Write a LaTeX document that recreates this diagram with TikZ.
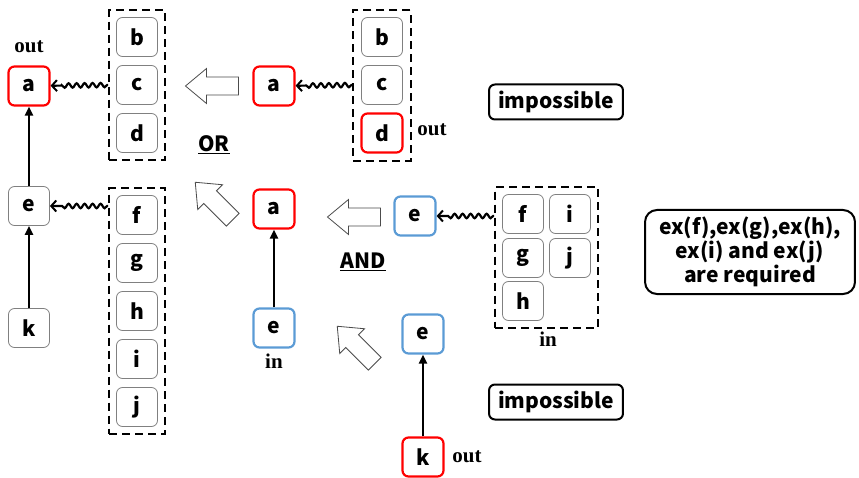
\documentclass[tikz,border=0pt]{standalone}
\usepackage{fontspec}
\setmainfont{Noto Sans CJK JP}
\newfontfamily\tagfont{Liberation Serif}
\usetikzlibrary{arrows.meta,positioning,fit,decorations.pathmorphing}

\definecolor{outred}{RGB}{255,0,0}
\definecolor{inblue}{RGB}{91,155,213}
\definecolor{plaingray}{RGB}{128,128,128}

\tikzset{
  elem/.style={draw=plaingray, line width=0.8pt, rounded corners=6pt,
    minimum width=41pt, minimum height=39pt, inner sep=0pt,
    font=\fontsize{21}{24}\selectfont\bfseries},
  outelem/.style={elem, draw=outred, line width=2.2pt},
  inelem/.style={elem, draw=inblue, line width=2.2pt},
  group/.style={draw, line width=2pt, dash pattern=on 8pt off 5pt, inner sep=7pt},
  tag/.style={font=\tagfont\fontsize{21}{24}\selectfont\bfseries},
  opword/.style={font=\fontsize{21}{24}\selectfont\bfseries},
  verdict/.style={draw, line width=2pt, rounded corners=6pt, align=center,
    inner xsep=9pt, minimum height=35pt,
    font=\fontsize{21}{24}\selectfont\bfseries},
  dep/.style={-{Straight Barb[length=5pt,width=11pt,line width=2pt]}, line width=2.2pt,
    decorate, decoration={snake, amplitude=2.2pt, segment length=8pt, pre length=1pt, post length=9pt}},
  link/.style={-{Triangle[length=9pt,width=8pt]}, line width=2.2pt},
  openarrow/.pic={
    \draw[black!70, fill=white, line width=0.8pt]
      (-26.5,0) -- (-5.5,17.5) -- (-5.5,9) -- (26.5,9) -- (26.5,-9)
      -- (-5.5,-9) -- (-5.5,-17.5) -- cycle;
  }
}

\begin{document}
\begin{tikzpicture}[x=1pt, y=-1pt, node distance=48pt, on grid]
  \useasboundingbox (0,0) rectangle (859,478);

  % left: a with e below, k below e
  \node[outelem] (a1) at (29,86) {a};
  \node[elem] (e1) [below=120pt of a1] {e};
  \node[elem] (k1) [below=122pt of e1] {k};
  \node[tag] (out1) [above=39pt of a1] {out};

  \node[elem] (b1) at (137,37) {b};
  \node[elem] (c1) [below=of b1] {c};
  \node[elem] (d1) [below=of c1] {d};
  \node[group, fit=(b1)(d1)] (grp1) {};

  \node[elem] (f1) at (137,215) {f};
  \node[elem] (g1) [below=of f1] {g};
  \node[elem] (h1) [below=of g1] {h};
  \node[elem] (i1) [below=of h1] {i};
  \node[elem] (j1) [below=of i1] {j};
  \node[group, fit=(f1)(j1)] (grp2) {};

  \draw[link] (k1) -- (e1);
  \draw[link] (e1) -- (a1);
  \draw[dep] (grp1.west |- c1) -- (a1);
  \draw[dep] (grp2.west |- e1) -- (e1);

  % OR branch
  \pic at (212,86) {openarrow};
  \node[opword] (or) at (214,145) {\underline{OR}};
  \node[outelem] (a2) at (274,86) {a};
  \node[elem] (b2) at (382,37) {b};
  \node[elem] (c2) [below=of b2] {c};
  \node[outelem] (d2) [below=of c2] {d};
  \node[group, fit=(b2)(d2)] (grp3) {};
  \node[tag] (out2) at (432,130) {out};
  \draw[dep] (grp3.west |- c2) -- (a2);
  \node[verdict] (imp1) at (556,102) {impossible};

  % AND branch
  \pic[rotate=-45] at (214,201) {openarrow};
  \node[outelem] (a3) at (274,209) {a};
  \node[inelem] (e3) [below=119pt of a3] {e};
  \node[tag] (in3) [below=33pt of e3] {in};
  \draw[link] (e3) -- (a3);

  \pic at (354,217) {openarrow};
  \node[opword] (and) at (363,262) {\underline{AND}};
  \node[inelem] (e4) at (415,216) {e};

  \node[elem] (f4) at (523,214) {f};
  \node[elem] (i4) [right=47pt of f4] {i};
  \node[elem] (g4) [below=44pt of f4] {g};
  \node[elem] (j4) [right=47pt of g4] {j};
  \node[elem] (h4) [below=43pt of g4] {h};
  \node[group, fit=(f4)(j4)(h4)] (grp4) {};
  \node[tag] (in4) at (548,339) {in};
  \draw[dep] (grp4.west |- e4) -- (e4);

  \node[verdict, rounded corners=12pt, inner xsep=14pt, inner ysep=7pt] (req) at (750,252)
    {ex(f),ex(g),ex(h),\\ex(i) and ex(j)\\are required};

  % k under e
  \pic[rotate=-45] at (356,345) {openarrow};
  \node[inelem] (e5) at (423,334) {e};
  \node[outelem] (k5) [below=123pt of e5] {k};
  \node[tag] (out5) at (467,457) {out};
  \draw[link] (k5) -- (e5);
  \node[verdict] (imp2) at (556,402) {impossible};
\end{tikzpicture}
\end{document}
